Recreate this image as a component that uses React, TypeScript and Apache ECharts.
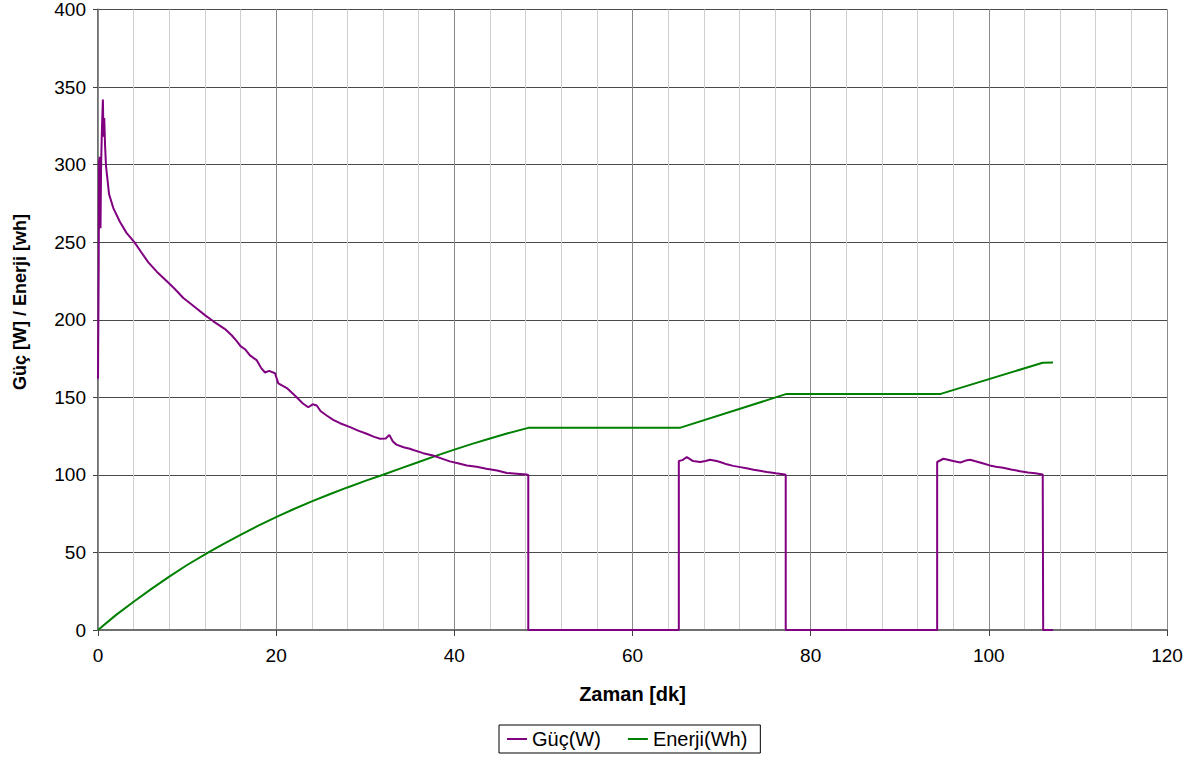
import React, { useEffect, useRef } from "react";
import * as echarts from "echarts";

const xTickLabels = [0, 20, 40, 60, 80, 100, 120];
const yTickLabels = [0, 50, 100, 150, 200, 250, 300, 350, 400];

const seriesNames = ["Güç(W)", "Enerji(Wh)"];

const powerTime = [
  0, 0.08, 0.12, 0.2, 0.28, 0.35, 0.45, 0.55, 0.62, 0.7, 0.79, 0.9, 1.09, 1.24, 1.72, 2.47, 3.2,
  4.08, 4.8, 5.65, 6.6, 7.7, 8.6, 9.58, 10.9, 12.0, 12.95, 14.26, 15.0, 15.6, 16.0, 16.5, 17.06,
  17.8, 18.3, 18.75, 19.2, 19.87, 20.24, 21.2, 22.3, 23.0, 23.6, 24.1, 24.55, 25.0, 25.67, 26.4,
  27.17, 28.3, 29.2, 30.16, 31.0, 31.66, 32.3, 32.7, 33.1, 33.5, 34.3, 35.0, 35.4, 36.5, 37.6,
  38.6, 39.5, 40.4, 41.4, 42.5, 43.6, 44.8, 45.9, 47.0, 48.1, 48.3, 48.3, 65.2, 65.2, 65.6, 66.1,
  66.8, 67.6, 68.2, 68.7, 69.45, 70.0, 70.6, 71.3, 72.1, 72.8, 73.6, 74.3, 75.1, 76.1, 77.1, 77.2,
  77.2, 94.2, 94.2, 94.9, 95.4, 96.0, 96.8, 97.4, 97.9, 98.8, 99.4, 100.1, 100.8, 101.6, 102.5,
  103.5, 104.4, 105.2, 106.05, 106.1, 106.1, 107.2,
];
const powerValue = [
  162, 235, 302, 305, 259, 300, 325, 342, 318, 330, 313, 299, 289, 281, 272, 263, 256,
  250, 244, 237, 231, 225, 220, 214, 208, 203, 199, 194, 190, 186, 183, 181, 177,
  174, 169, 166, 167, 165.5, 159, 156, 150, 146, 143.6, 145.5, 144.7, 141, 138.3, 135.5,
  133.3, 130.8, 128.5, 126.5, 124.5, 123.3, 123.5, 125.8, 121.5, 119.5, 117.8, 116.8, 116, 114, 112.5,
  110.5, 108.7, 107.5, 106.1, 105.2, 104, 102.8, 101.2, 100.8, 100.3, 100, 0, 0, 108.9, 109.5, 111.5,
  108.9, 108.3, 109, 109.8, 108.9, 108, 106.8, 105.8, 105, 104.3, 103.3, 102.6, 101.8, 101, 100.3, 100,
  0, 0, 108.3, 110.4, 109.8, 108.9, 108, 109.2, 109.8, 108.3, 107.3, 106.1, 105.3, 104.6, 103.5,
  102.4, 101.6, 101, 100.3, 100, 0, 0,
];

const energyTime = [
  0, 2, 4, 6, 8, 10, 12.4, 14, 16, 18, 20.17, 22, 24, 26, 28, 30, 32, 33.9, 36, 38, 40, 42, 44, 46,
  48.3, 65.3, 77.3, 94.6, 106.05, 107.2,
];
const energyValue = [
  0, 9.6, 18.2, 26.5, 34.4, 41.9, 50, 55.2, 61.3, 67.3, 73.3, 78, 82.9, 87.5, 91.9, 96.1, 100.1, 104,
  108.3, 112.4, 116.3, 120, 123.5, 126.8, 130.3, 130.3, 152.2, 152.2, 172.3, 172.5,
];

const FONT = "'Liberation Sans', Arial, sans-serif";

export default function App() {
  const ref = useRef<HTMLDivElement>(null);

  useEffect(() => {
    if (!ref.current) return;
    const chart = echarts.init(ref.current, null, { renderer: "svg" });
    const powerData = powerTime.map((t, i) => [t, powerValue[i]]);
    const energyData = energyTime.map((t, i) => [t, energyValue[i]]);

    chart.setOption({
      animation: false,
      backgroundColor: "#ffffff",
      grid: { left: 98, right: 35, top: 8, bottom: 135, containLabel: false },
      legend: {
        data: seriesNames,
        left: 499,
        top: 725,
        icon: "rect",
        itemWidth: 20,
        itemHeight: 2,
        itemGap: 27,
        padding: [4, 13, 4, 8],
        borderColor: "#000000",
        borderWidth: 1,
        textStyle: { fontFamily: FONT, fontSize: 20, color: "#000" },
      },
      xAxis: [
        {
          type: "value",
          min: 0,
          max: 120,
          interval: 20,
          z: 1,
          name: "Zaman [dk]",
          nameLocation: "middle",
          nameGap: 54,
          nameTextStyle: { fontFamily: FONT, fontSize: 20, fontWeight: "bold", color: "#000" },
          axisLine: { show: true, lineStyle: { color: "#707070", width: 2 } },
          axisTick: { show: true, inside: false, length: 6, lineStyle: { color: "#404040", width: 1 } },
          axisLabel: {
            show: true,
            margin: 16,
            fontFamily: FONT,
            fontSize: 19,
            color: "#000",
            formatter: (v: number) => (xTickLabels.includes(v) ? String(v) : ""),
          },
          splitLine: { show: true, lineStyle: { color: "#8a8a8a", width: 1 } },
        },
        {
          type: "value",
          min: 0,
          max: 120,
          interval: 4,
          position: "bottom",
          z: 0,
          axisLine: { show: false },
          axisTick: { show: false },
          axisLabel: { show: false },
          splitLine: { show: true, lineStyle: { color: "#cfcfcf", width: 1 } },
        },
      ],
      yAxis: {
        type: "value",
        min: 0,
        max: 400,
        interval: 50,
        axisLine: { show: true, lineStyle: { color: "#707070", width: 2 } },
        axisTick: { show: true, inside: false, length: 5, lineStyle: { color: "#404040", width: 1 } },
        axisLabel: {
          margin: 12,
          fontFamily: FONT,
          fontSize: 19,
          color: "#000",
          formatter: (v: number) => (yTickLabels.includes(v) ? String(v) : ""),
        },
        splitLine: { show: true, lineStyle: { color: "#4a4a4a", width: 1 } },
      },
      graphic: [
        {
          type: "text",
          x: 20,
          y: 302,
          rotation: Math.PI / 2,
          style: {
            text: "Güç [W] / Enerji [wh]",
            font: `bold 18px ${FONT}`,
            fill: "#000",
            align: "center",
            verticalAlign: "middle",
          },
        },
      ],
      series: [
        {
          name: seriesNames[0],
          type: "line",
          xAxisIndex: 0,
          data: powerData,
          showSymbol: false,
          symbol: "none",
          lineStyle: { color: "#800080", width: 2 },
          itemStyle: { color: "#800080" },
          z: 3,
        },
        {
          name: seriesNames[1],
          type: "line",
          xAxisIndex: 0,
          data: energyData,
          showSymbol: false,
          symbol: "none",
          lineStyle: { color: "#008000", width: 2 },
          itemStyle: { color: "#008000" },
          z: 2,
        },
      ],
    });

    return () => {
      chart.dispose();
    };
  }, []);

  return (
    <div
      ref={ref}
      style={{ position: "absolute", left: 0, top: 0, width: 1202, height: 765, background: "#fff" }}
    />
  );
}
